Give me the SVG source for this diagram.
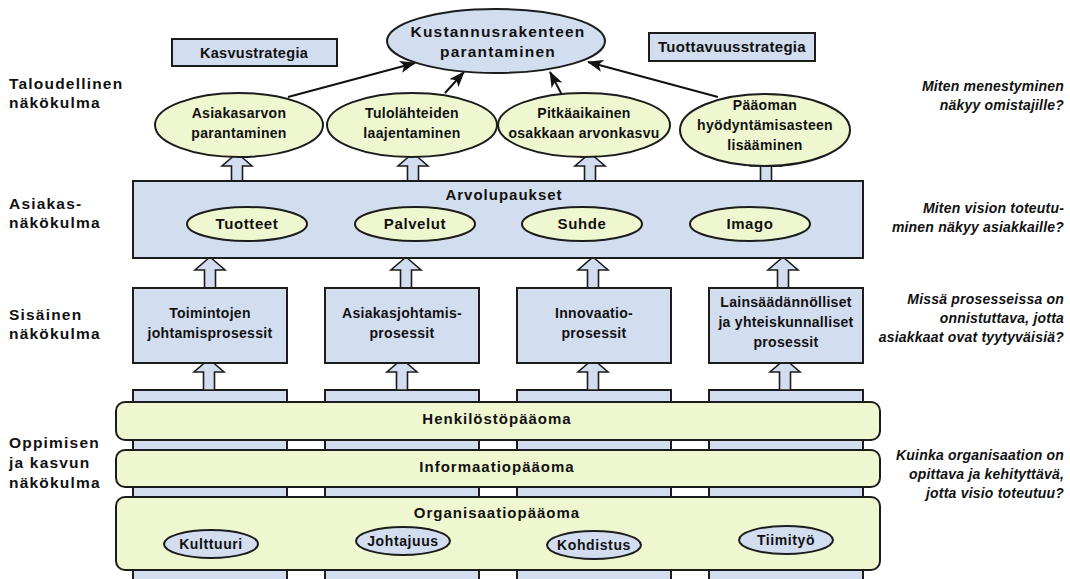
<svg xmlns="http://www.w3.org/2000/svg" width="1070" height="579" viewBox="0 0 1070 579">
<defs>
<style>
.t{font-family:"Liberation Sans",Arial,sans-serif;font-weight:bold;font-size:14px;letter-spacing:0.3px;fill:#111;text-anchor:middle}
.h{font-size:15px;letter-spacing:1px}
.k{font-size:15.5px;letter-spacing:1.2px}
.e{font-size:15px;letter-spacing:0.6px}
.s{font-size:14px;letter-spacing:0.6px}
.l{font-family:"Liberation Sans",Arial,sans-serif;font-weight:bold;font-size:15.5px;letter-spacing:1.2px;fill:#111}
.q{font-family:"Liberation Sans",Arial,sans-serif;font-weight:bold;font-style:italic;font-size:14px;letter-spacing:0.2px;fill:#111;text-anchor:end}
.bl{fill:#d2ddf0;stroke:#1c1c1c;stroke-width:2}
.gr{fill:#eef7cf;stroke:#1c1c1c;stroke-width:2}
.ba{fill:#d2ddf0;stroke:#1c1c1c;stroke-width:1.6;stroke-linejoin:miter}
.ln{stroke:#111;stroke-width:2;fill:none}
</style>
<marker id="ah" viewBox="0 0 16 12" refX="15" refY="6" markerWidth="16" markerHeight="12" markerUnits="userSpaceOnUse" orient="auto">
<path d="M0,0 L16,6 L0,12 L4,6 Z" fill="#111"/>
</marker>
</defs>
<rect width="1070" height="579" fill="#fff"/>

<g id="perspectives">
<text class="l" x="9" y="89">Taloudellinen</text>
<text class="l" x="9" y="108">näkökulma</text>
<text class="l" x="9" y="209">Asiakas-</text>
<text class="l" x="9" y="228">näkökulma</text>
<text class="l" x="9" y="320">Sisäinen</text>
<text class="l" x="9" y="339">näkökulma</text>
<text class="l" x="9" y="448">Oppimisen</text>
<text class="l" x="9" y="468">ja kasvun</text>
<text class="l" x="9" y="488">näkökulma</text>
</g>
<g id="questions">
<text class="q" x="1064" y="91">Miten menestyminen</text>
<text class="q" x="1064" y="110">näkyy omistajille?</text>
<text class="q" x="1064" y="213">Miten vision toteutu-</text>
<text class="q" x="1064" y="232">minen näkyy asiakkaille?</text>
<text class="q" x="1064" y="304">Missä prosesseissa on</text>
<text class="q" x="1064" y="323">onnistuttava, jotta</text>
<text class="q" x="1064" y="342">asiakkaat ovat tyytyväisiä?</text>
<text class="q" x="1064" y="460">Kuinka organisaation on</text>
<text class="q" x="1064" y="479">opittava ja kehityttävä,</text>
<text class="q" x="1064" y="498">jotta visio toteutuu?</text>
</g>

<g id="columns">
<rect class="bl" x="133" y="390" width="154" height="200"/>
<rect class="bl" x="325" y="390" width="154" height="200"/>
<rect class="bl" x="517" y="390" width="154" height="200"/>
<rect class="bl" x="709" y="390" width="154" height="200"/>
</g>

<g id="connectors">
<path class="ba" d="M237,153 L252,166 L242.5,166 L242.5,182 L231.5,182 L231.5,166 L222,166 Z"/>
<path class="ba" d="M413,153 L428,166 L418.5,166 L418.5,182 L407.5,182 L407.5,166 L398,166 Z"/>
<path class="ba" d="M590,153 L605,166 L595.5,166 L595.5,182 L584.5,182 L584.5,166 L575,166 Z"/>
<path class="ba" d="M766,153 L781,166 L771.5,166 L771.5,182 L760.5,182 L760.5,166 L751,166 Z"/>
<path class="ba" d="M210,257 L225,270 L215.5,270 L215.5,288 L204.5,288 L204.5,270 L195,270 Z"/>
<path class="ba" d="M406,257 L421,270 L411.5,270 L411.5,288 L400.5,288 L400.5,270 L391,270 Z"/>
<path class="ba" d="M593,257 L608,270 L598.5,270 L598.5,288 L587.5,288 L587.5,270 L578,270 Z"/>
<path class="ba" d="M783,257 L798,270 L788.5,270 L788.5,288 L777.5,288 L777.5,270 L768,270 Z"/>
<path class="ba" d="M209,359 L224,372 L214.5,372 L214.5,390 L203.5,390 L203.5,372 L194,372 Z"/>
<path class="ba" d="M402,359 L417,372 L407.5,372 L407.5,390 L396.5,390 L396.5,372 L387,372 Z"/>
<path class="ba" d="M593,359 L608,372 L598.5,372 L598.5,390 L587.5,390 L587.5,372 L578,372 Z"/>
<path class="ba" d="M785,359 L800,372 L790.5,372 L790.5,390 L779.5,390 L779.5,372 L770,372 Z"/>
<line class="ln" x1="288" y1="97" x2="415" y2="63" marker-end="url(#ah)"/>
<line class="ln" x1="445" y1="93" x2="464" y2="72" marker-end="url(#ah)"/>
<line class="ln" x1="562" y1="95" x2="550" y2="72" marker-end="url(#ah)"/>
<line class="ln" x1="718" y1="97" x2="588" y2="62" marker-end="url(#ah)"/>
</g>

<g id="kustannus">
<ellipse class="bl" cx="496" cy="41" rx="109" ry="32"/>
<text class="t k" x="498" y="37">Kustannusrakenteen</text>
<text class="t k" x="498" y="57">parantaminen</text>
</g>
<g id="kasvustrategia">
<rect class="bl" x="172" y="39" width="165" height="27"/>
<text class="t" x="254" y="58" style="font-size:14.5px">Kasvustrategia</text>
</g>
<g id="tuottavuusstrategia">
<rect class="bl" x="649" y="33" width="166" height="28"/>
<text class="t" x="732" y="52" style="font-size:15px">Tuottavuusstrategia</text>
</g>

<g id="asiakasarvon">
<ellipse class="gr" cx="239" cy="125" rx="84" ry="32"/>
<text class="t" x="239" y="118">Asiakasarvon</text>
<text class="t" x="239" y="138">parantaminen</text>
</g>
<g id="tulolahteiden">
<ellipse class="gr" cx="412" cy="125" rx="85" ry="32"/>
<text class="t" x="412" y="118">Tulolähteiden</text>
<text class="t" x="412" y="138">laajentaminen</text>
</g>
<g id="pitkaaikainen">
<ellipse class="gr" cx="584" cy="125" rx="86" ry="32"/>
<text class="t" x="584" y="118">Pitkäaikainen</text>
<text class="t" x="584" y="138">osakkaan arvonkasvu</text>
</g>
<g id="paaoman">
<ellipse class="gr" cx="765" cy="130" rx="85" ry="36"/>
<text class="t" x="765" y="110">Pääoman</text>
<text class="t" x="765" y="130">hyödyntämisasteen</text>
<text class="t" x="765" y="150">lisääminen</text>
</g>

<g id="arvolupaukset">
<rect class="bl" x="133" y="181" width="730" height="77"/>
<text class="t h" x="504" y="200">Arvolupaukset</text>
<ellipse class="gr" cx="247" cy="224" rx="60" ry="17"/>
<text class="t e" x="247" y="229">Tuotteet</text>
<ellipse class="gr" cx="415" cy="224" rx="60" ry="17"/>
<text class="t e" x="415" y="229">Palvelut</text>
<ellipse class="gr" cx="582" cy="224" rx="60" ry="17"/>
<text class="t e" x="582" y="229">Suhde</text>
<ellipse class="gr" cx="750" cy="224" rx="60" ry="17"/>
<text class="t e" x="750" y="229">Imago</text>
</g>

<g id="toimintojen">
<rect class="bl" x="133" y="288" width="154" height="75"/>
<text class="t" x="210" y="318">Toimintojen</text>
<text class="t" x="210" y="338">johtamisprosessit</text>
</g>
<g id="asiakasjohtamis">
<rect class="bl" x="325" y="288" width="154" height="75"/>
<text class="t" x="402" y="318">Asiakasjohtamis-</text>
<text class="t" x="402" y="338">prosessit</text>
</g>
<g id="innovaatio">
<rect class="bl" x="517" y="288" width="154" height="75"/>
<text class="t" x="594" y="318">Innovaatio-</text>
<text class="t" x="594" y="338">prosessit</text>
</g>
<g id="lainsaadannolliset">
<rect class="bl" x="709" y="288" width="154" height="75"/>
<text class="t" x="786" y="307">Lainsäädännölliset</text>
<text class="t" x="786" y="327">ja yhteiskunnalliset</text>
<text class="t" x="786" y="347">prosessit</text>
</g>

<g id="henkilostopaaoma">
<rect class="gr" x="116" y="402" width="764" height="38" rx="9"/>
<text class="t h" x="497" y="424">Henkilöstöpääoma</text>
</g>
<g id="informaatiopaaoma">
<rect class="gr" x="116" y="450" width="764" height="37" rx="9"/>
<text class="t h" x="497" y="472">Informaatiopääoma</text>
</g>
<g id="organisaatiopaaoma">
<rect class="gr" x="116" y="497" width="764" height="73" rx="9"/>
<text class="t h" x="497" y="518">Organisaatiopääoma</text>
<ellipse class="bl" cx="211" cy="544" rx="47" ry="14"/>
<text class="t s" x="211" y="549">Kulttuuri</text>
<ellipse class="bl" cx="403" cy="541" rx="47" ry="14"/>
<text class="t s" x="403" y="546">Johtajuus</text>
<ellipse class="bl" cx="594" cy="545" rx="47" ry="14"/>
<text class="t s" x="594" y="550">Kohdistus</text>
<ellipse class="bl" cx="786" cy="540" rx="47" ry="14"/>
<text class="t s" x="786" y="545">Tiimityö</text>
</g>
</svg>
